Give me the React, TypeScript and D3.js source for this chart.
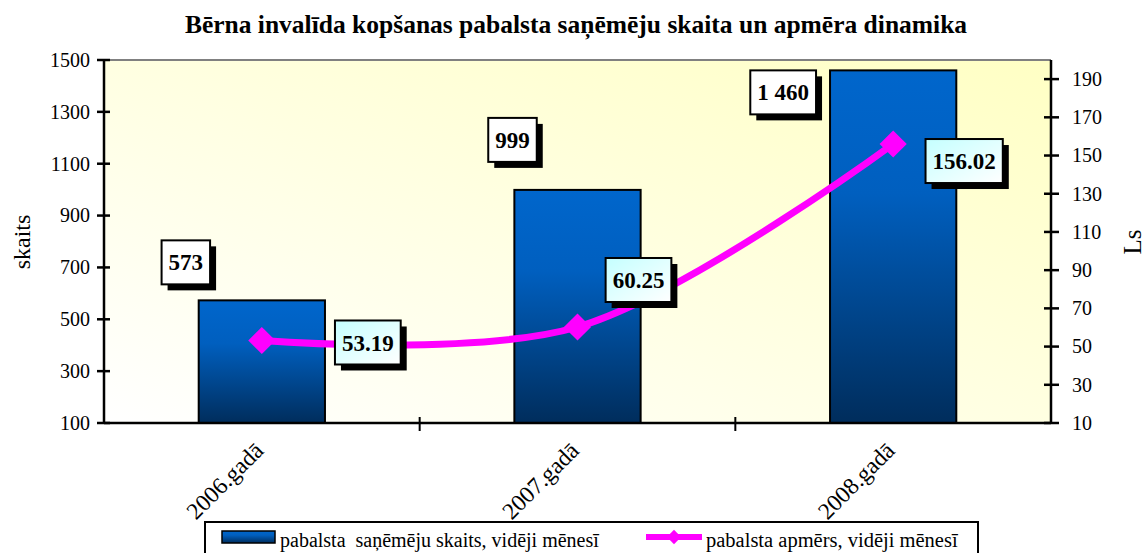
import React, { useEffect, useRef } from "react";
import * as d3 from "d3";

const categories = ["2006.gadā", "2007.gadā", "2008.gadā"];
const counts = [573, 999, 1460];
const countLabels = ["573", "999", "1 460"];
const amounts = [53.19, 60.25, 156.02];
const amountLabels = ["53.19", "60.25", "156.02"];
const leftTicks = [100, 300, 500, 700, 900, 1100, 1300, 1500];
const rightTicks = [10, 30, 50, 70, 90, 110, 130, 150, 170, 190];
const title = "Bērna invalīda kopšanas pabalsta saņēmēju skaita un apmēra dinamika";
const leftAxisTitle = "skaits";
const rightAxisTitle = "Ls";
const seriesNames = ["pabalsta  saņēmēju skaits, vidēji mēnesī", "pabalsta apmērs, vidēji mēnesī"];
// label box offsets (px) from the data point
const countLabelOffsets = [[-76, -38], [-65, -50], [-110, 22]];
const amountLabelOffsets = [[106, 2], [61, -47], [71, 17]];

const W = 1147, H = 553;
const FONT = "Liberation Serif, Tinos, Times New Roman, serif";

export default function App() {
  const ref = useRef<SVGSVGElement | null>(null);
  useEffect(() => {
    const svg = d3.select(ref.current);
    svg.selectAll("*").remove();
    const left = 104, right = 1051, top = 60, bottom = 423;

    const defs = svg.append("defs");
    const bg = defs.append("linearGradient").attr("id", "bg").attr("x1", 0).attr("y1", 1).attr("x2", 1).attr("y2", 0);
    bg.append("stop").attr("offset", "0%").attr("stop-color", "#ffffff");
    bg.append("stop").attr("offset", "100%").attr("stop-color", "#ffffc4");
    const bar = defs.append("linearGradient").attr("id", "bar").attr("x1", 0).attr("y1", 0).attr("x2", 0).attr("y2", 1);
    bar.append("stop").attr("offset", "0%").attr("stop-color", "#0066cc");
    bar.append("stop").attr("offset", "35%").attr("stop-color", "#005fbf");
    bar.append("stop").attr("offset", "100%").attr("stop-color", "#002d5c");
    const cy = defs.append("linearGradient").attr("id", "cy").attr("x1", 0).attr("y1", 0).attr("x2", 1).attr("y2", 1);
    cy.append("stop").attr("offset", "0%").attr("stop-color", "#c4ffff");
    cy.append("stop").attr("offset", "100%").attr("stop-color", "#ffffff");

    svg.append("rect").attr("width", W).attr("height", H).attr("fill", "#ffffff");

    const x = d3.scaleBand<string>().domain(categories).range([left, right]);
    const yL = d3.scaleLinear().domain([100, 1500]).range([bottom, top]);
    const yR = d3.scaleLinear().domain([10, 200]).range([bottom, top]);

    const txt = (g: any, size: number, bold = false) =>
      g.append("text").style("font-family", FONT).style("font-size", size + "px").style("font-weight", bold ? "bold" : "normal").attr("fill", "#000");

    svg.append("rect").attr("x", left).attr("y", top).attr("width", right - left).attr("height", bottom - top).attr("fill", "url(#bg)");
    svg.append("line").attr("x1", left).attr("x2", right).attr("y1", top).attr("y2", top).attr("stroke", "#808080").attr("stroke-width", 2);

    // title
    txt(svg, 25.5, true).attr("x", 576).attr("y", 33).attr("text-anchor", "middle").text(title);

    // bars
    const bw = x.bandwidth() * 0.4;
    svg.selectAll("rect.bar").data(counts).enter().append("rect").attr("class", "bar")
      .attr("x", (_d: number, i: number) => x(categories[i])! + x.bandwidth() / 2 - bw / 2)
      .attr("y", (d: number) => yL(d))
      .attr("width", bw)
      .attr("height", (d: number) => bottom - yL(d))
      .attr("fill", "url(#bar)").attr("stroke", "#000").attr("stroke-width", 2);

    // axes
    const axisG = svg.append("g");
    axisG.append("line").attr("x1", left).attr("x2", left).attr("y1", top).attr("y2", bottom + 1).attr("stroke", "#000").attr("stroke-width", 2.5);
    axisG.append("line").attr("x1", right).attr("x2", right).attr("y1", top).attr("y2", bottom + 1).attr("stroke", "#000").attr("stroke-width", 2.5);
    axisG.append("line").attr("x1", left).attr("x2", right).attr("y1", bottom).attr("y2", bottom).attr("stroke", "#000").attr("stroke-width", 2.5);

    leftTicks.forEach(t => {
      axisG.append("line").attr("x1", left - 7).attr("x2", left + 6).attr("y1", yL(t)).attr("y2", yL(t)).attr("stroke", "#000").attr("stroke-width", 2.5);
      txt(axisG, 20).attr("x", 90).attr("y", yL(t)).attr("dy", "0.34em").attr("text-anchor", "end").text(String(t));
    });
    rightTicks.forEach(t => {
      axisG.append("line").attr("x1", right - 7).attr("x2", right + 8).attr("y1", yR(t)).attr("y2", yR(t)).attr("stroke", "#000").attr("stroke-width", 2.5);
      txt(axisG, 20).attr("x", 1072).attr("y", yR(t)).attr("dy", "0.34em").attr("text-anchor", "start").text(String(t));
    });
    categories.forEach((c, i) => {
      if (i > 0) {
        const tx = x(c)!;
        axisG.append("line").attr("x1", tx).attr("x2", tx).attr("y1", bottom - 6).attr("y2", bottom + 8).attr("stroke", "#000").attr("stroke-width", 2);
      }
      const cx = x(c)! + x.bandwidth() / 2;
      txt(axisG, 23.5).attr("transform", `translate(${cx + 3},${452}) rotate(-45)`).attr("text-anchor", "end").text(c);
    });

    txt(svg, 24).attr("transform", `translate(30,242) rotate(-90)`).attr("text-anchor", "middle").text(leftAxisTitle);
    txt(svg, 25).attr("transform", `translate(1141,242) rotate(-90)`).attr("text-anchor", "middle").text(rightAxisTitle);

    // line
    const pts: [number, number][] = amounts.map((v, i) => [x(categories[i])! + x.bandwidth() / 2, yR(v)]);
    const line = d3.line().curve(d3.curveCatmullRom.alpha(0.5));
    svg.append("path").attr("d", line(pts)!).attr("fill", "none").attr("stroke", "#ff00ff").attr("stroke-width", 7);
    const sym = d3.symbol().type(d3.symbolDiamond2).size(470);
    pts.forEach(p => {
      svg.append("path").attr("d", sym()!).attr("transform", `translate(${p[0]},${p[1]})`).attr("fill", "#ff00ff");
    });

    // label boxes
    const drawBox = (cx: number, cy0: number, label: string, fill: string) => {
      const g = svg.append("g");
      const t = txt(g, 23, true).attr("x", cx).attr("y", cy0).attr("dy", "0.35em").attr("text-anchor", "middle").text(label);
      const tw = (t.node() as SVGTextElement).getComputedTextLength();
      const bw2 = tw + 14, bh = 44;
      g.insert("rect", "text").attr("x", cx - bw2 / 2 + 6).attr("y", cy0 - bh / 2 + 6).attr("width", bw2).attr("height", bh).attr("fill", "#000");
      g.insert("rect", "text").attr("x", cx - bw2 / 2).attr("y", cy0 - bh / 2).attr("width", bw2).attr("height", bh)
        .attr("fill", fill).attr("stroke", "#000").attr("stroke-width", 2);
    };
    counts.forEach((v, i) => {
      const cx = x(categories[i])! + x.bandwidth() / 2 + countLabelOffsets[i][0];
      drawBox(cx, yL(v) + countLabelOffsets[i][1], countLabels[i], "#ffffff");
    });
    amounts.forEach((_v, i) => {
      drawBox(pts[i][0] + amountLabelOffsets[i][0], pts[i][1] + amountLabelOffsets[i][1], amountLabels[i], "url(#cy)");
    });

    // legend
    const lg = svg.append("g");
    lg.append("rect").attr("x", 205).attr("y", 522).attr("width", 773).attr("height", 40).attr("fill", "#fff").attr("stroke", "#000").attr("stroke-width", 2);
    lg.append("rect").attr("x", 222).attr("y", 531).attr("width", 53).attr("height", 12).attr("fill", "url(#bar)").attr("stroke", "#000").attr("stroke-width", 1.5);
    txt(lg, 20).attr("x", 280).attr("y", 547).style("white-space", "pre").text(seriesNames[0]);
    lg.append("line").attr("x1", 646).attr("x2", 702).attr("y1", 537).attr("y2", 537).attr("stroke", "#ff00ff").attr("stroke-width", 6);
    lg.append("path").attr("d", d3.symbol().type(d3.symbolDiamond2).size(130)()!).attr("transform", "translate(674,537)").attr("fill", "#ff00ff");
    txt(lg, 20.5).attr("x", 706).attr("y", 547).text(seriesNames[1]);
  }, []);
  return <svg ref={ref} width={W} height={H} style={{ position: "absolute", left: 0, top: 0 }} />;
}
